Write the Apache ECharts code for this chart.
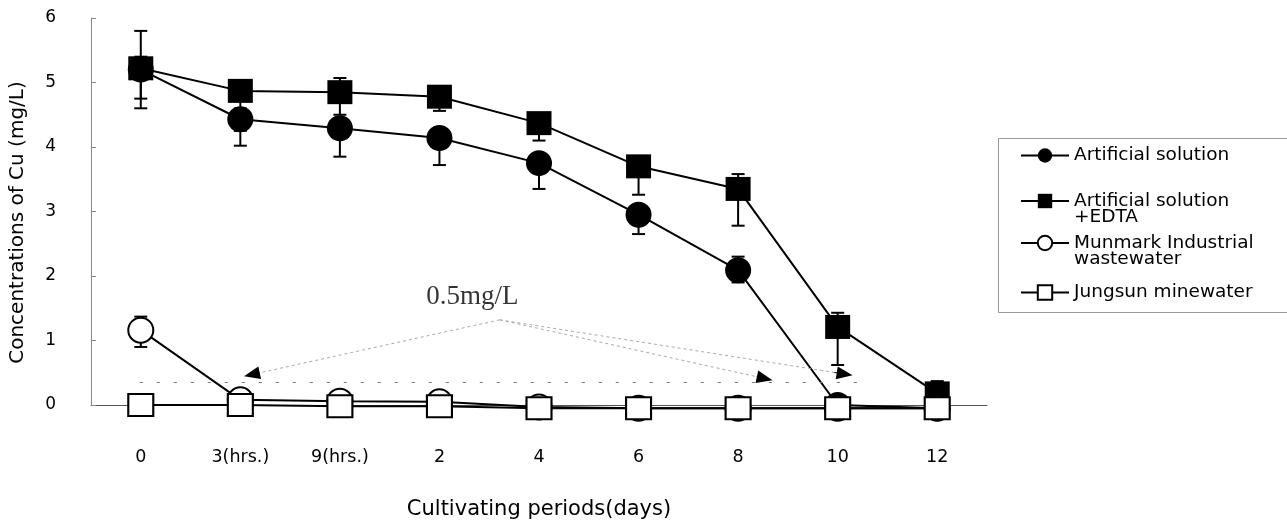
<!DOCTYPE html>
<html><head><meta charset="utf-8">
<script src="https://cdn.jsdelivr.net/npm/echarts@6/dist/echarts.min.js"></script>
<style>html,body{margin:0;padding:0;background:#fff}#c{width:1287px;height:521px}</style>
</head><body><div id="c"></div>
<script>
// ---------- data ----------
const categories = ['0', '3(hrs.)', '9(hrs.)', '2', '4', '6', '8', '10', '12'];
const yTickMin = 0, yTickMax = 6, yTickStep = 1;
const seriesNames = ['Artificial solution', 'Artificial solution\n+EDTA', 'Munmark Industrial\nwastewater', 'Jungsun minewater'];

const artificial = [5.20, 4.43, 4.29, 4.14, 3.75, 2.95, 2.09, 0.00, -0.05];
const artificialLow = [4.60, 4.02, 3.85, 3.72, 3.35, 2.65, 1.90, null, null];
const artificialHigh = [5.80, 4.60, 4.45, 4.30, 3.90, 3.10, 2.30, null, null];

const edta = [5.22, 4.87, 4.85, 4.78, 4.37, 3.70, 3.35, 1.21, 0.18];
const edtaLow = [4.75, 4.25, 4.50, 4.56, 4.10, 3.26, 2.78, 0.62, 0.10];
const edtaHigh = [5.40, 4.95, 5.07, 4.85, 4.45, 3.80, 3.58, 1.43, 0.37];

const munmark = [1.16, 0.08, 0.06, 0.05, -0.03, -0.05, -0.05, -0.05, -0.05];
const munmarkLow = [0.90, null, null, null, null, null, null, null, null];
const munmarkHigh = [1.37, null, null, null, null, null, null, null, null];

const jungsun = [0.00, 0.00, -0.02, -0.02, -0.05, -0.05, -0.05, -0.05, -0.05];

// annotation (in data units: category index, concentration)
const limitLabel = '0.5mg/L';
const limitLabelAt = [3.33, 1.68];
const limitLevel = 0.35;
const limitLevelFrom = -0.01, limitLevelTo = 7.32;
const arrowApex = [3.606, 1.32];
const arrowTargets = [[1.116, 0.473], [6.267, 0.411], [7.07, 0.48]];

// ---------- chart ----------
const FONT = 'DejaVu Sans';
const chart = echarts.init(document.getElementById('c'), null, { renderer: 'canvas' });

function errData(lo, hi) {
  const out = [];
  lo.forEach((l, i) => { if (l != null) out.push([i, l, hi[i]]); });
  return out;
}
const allErr = errData(artificialLow, artificialHigh)
  .concat(errData(edtaLow, edtaHigh))
  .concat(errData(munmarkLow, munmarkHigh));

function renderErr(params, api) {
  const x = api.value(0);
  const lo = api.coord([x, api.value(1)]);
  const hi = api.coord([x, api.value(2)]);
  const w = 6.5;
  const st = { stroke: '#000', lineWidth: 2 };
  return {
    type: 'group',
    children: [
      { type: 'line', shape: { x1: lo[0], y1: lo[1], x2: hi[0], y2: hi[1] }, style: st },
      { type: 'line', shape: { x1: lo[0] - w, y1: lo[1], x2: lo[0] + w, y2: lo[1] }, style: st },
      { type: 'line', shape: { x1: hi[0] - w, y1: hi[1], x2: hi[0] + w, y2: hi[1] }, style: st }
    ]
  };
}

const lineBase = { type: 'line', xAxisIndex: 0, yAxisIndex: 0, clip: false, z: 3,
  lineStyle: { color: '#000', width: 2 }, emphasis: { disabled: true } };

const legendTops = [146, 175, 217, 283];
const legends = seriesNames.map((n, i) => ({
  data: [n], left: 1020, top: legendTops[i], orient: 'vertical', padding: 0,
  itemWidth: 48, itemHeight: 18, itemGap: 0, selectedMode: false,
  formatter: nm => (nm.indexOf('\n') >= 0 ? '\n' + nm : nm),
  textStyle: { fontFamily: FONT, fontSize: 18.5, lineHeight: 16.5, color: '#000' }
}));

const option = {
  animation: false,
  backgroundColor: '#fff',
  grid: { left: 91, right: 300, top: 18, bottom: 116, containLabel: false, outerBoundsMode: 'none' },
  legend: legends,
  graphic: [{
    type: 'rect', left: 996, top: 136, z: 0, silent: true,
    shape: { width: 300, height: 174 },
    style: { fill: 'none', stroke: '#999', lineWidth: 1 }
  }],
  xAxis: [{
    type: 'category', data: categories, boundaryGap: true,
    axisLine: { onZero: false, lineStyle: { color: '#555', width: 1 } },
    axisTick: { inside: true, length: 6, lineStyle: { color: '#555' } },
    axisLabel: { margin: 43, fontFamily: FONT, fontSize: 17.5, color: '#000' },
    name: 'Cultivating periods(days)', nameLocation: 'middle', nameGap: 94,
    nameTextStyle: { fontFamily: FONT, fontSize: 21, color: '#000' }
  }, {
    type: 'value', min: -0.5, max: 8.5, show: false
  }],
  yAxis: [{
    type: 'value', min: yTickMin, max: yTickMax, interval: yTickStep,
    axisLine: { show: true, onZero: false, lineStyle: { color: '#888', width: 1 } },
    axisTick: { show: true, inside: true, length: 5, lineStyle: { color: '#888' } },
    splitLine: { show: false },
    axisLabel: { margin: 35, fontFamily: FONT, fontSize: 17, color: '#000' },
    name: 'Concentrations of Cu (mg/L)', nameLocation: 'middle', nameGap: 63,
    nameTextStyle: { fontFamily: FONT, fontSize: 20, color: '#000', padding: [0, 22, 0, 0] }
  }],
  series: [
    {
      type: 'custom', name: 'err', xAxisIndex: 0, yAxisIndex: 0, z: 1, silent: true, clip: false,
      renderItem: renderErr, data: allErr, encode: { x: 0, y: [1, 2] }
    },
    Object.assign({}, lineBase, { name: seriesNames[0], data: artificial, symbol: 'circle', symbolSize: 26,
      itemStyle: { color: '#000' } }),
    Object.assign({}, lineBase, { name: seriesNames[1], data: edta, symbol: 'rect', symbolSize: [25, 24],
      itemStyle: { color: '#000' } }),
    Object.assign({}, lineBase, { name: seriesNames[2], data: munmark, symbol: 'emptyCircle', symbolSize: 25,
      itemStyle: { color: '#000', borderWidth: 2 } }),
    Object.assign({}, lineBase, { name: seriesNames[3], data: jungsun, symbol: 'emptyRect', symbolSize: [25, 22],
      itemStyle: { color: '#000', borderWidth: 2 } }),
    {
      type: 'line', name: 'annot', xAxisIndex: 1, yAxisIndex: 0, data: [], silent: true, z: 0,
      markLine: {
        silent: true, animation: false, symbol: ['none', 'none'], label: { show: false },
        lineStyle: { color: '#aaa', type: [3, 3], width: 1 },
        data: arrowTargets.map(t => [{ coord: arrowApex }, { coord: t }]).concat([[
          { coord: [limitLevelFrom, limitLevel], lineStyle: { color: '#777', type: [3, 14], width: 1 } },
          { coord: [limitLevelTo, limitLevel] }
        ]])
      }
    },
    {
      type: 'line', name: 'arrows', xAxisIndex: 1, yAxisIndex: 0, data: [], silent: true, z: 0,
      markLine: {
        silent: true, animation: false, symbol: ['none', 'triangle'], symbolSize: [13, 16],
        label: { show: false },
        lineStyle: { color: '#000', type: 'solid', width: 1 },
        data: arrowTargets.map(t => [
          { coord: [arrowApex[0] + 0.97 * (t[0] - arrowApex[0]), arrowApex[1] + 0.97 * (t[1] - arrowApex[1])] },
          { coord: t }
        ])
      }
    },
    {
      type: 'scatter', name: 'annotText', xAxisIndex: 1, yAxisIndex: 0, silent: true,
      data: [limitLabelAt], symbolSize: 1, itemStyle: { color: 'rgba(0,0,0,0)' },
      label: { show: true, position: 'inside', formatter: limitLabel,
        fontFamily: 'Liberation Serif', fontSize: 27, color: '#000' }
    }
  ]
};
chart.setOption(option);
</script>
</body></html>
